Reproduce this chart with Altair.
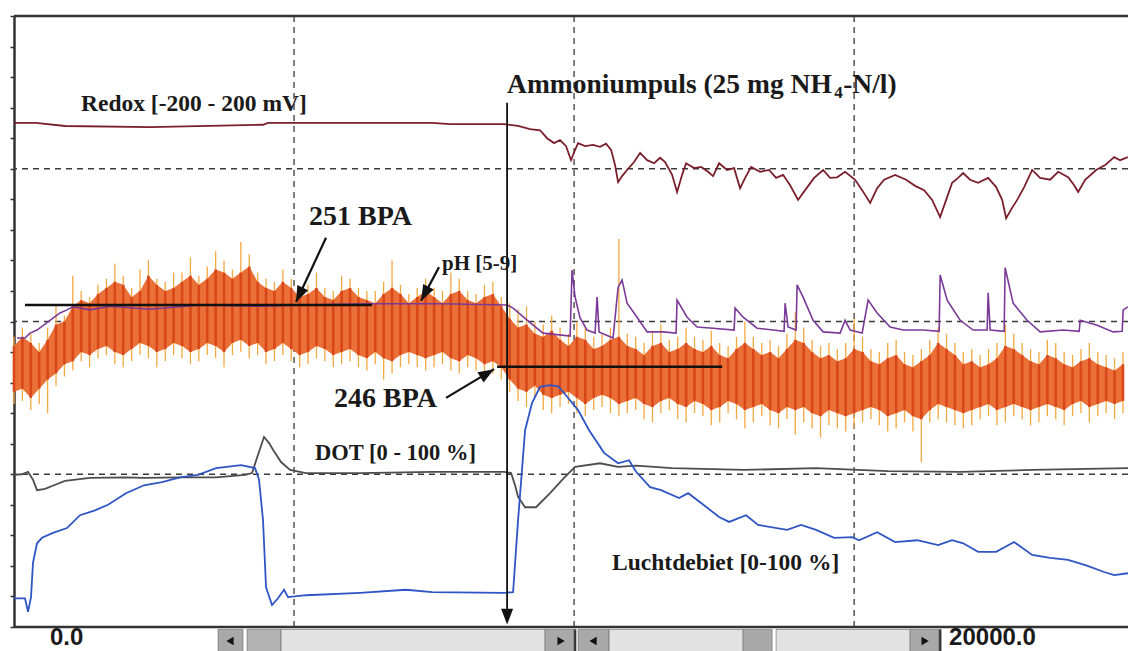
import altair as alt
import pandas as pd

T_END = 19890  # seconds visible in the window

# ---- series (time [s], value in % of the recorder's full scale) ----
REDOX = [(0, 82.5), (393, 82.5), (911, 82.0), (2429, 81.8), (4446, 82.2), (4536, 82.5), (7464, 82.5),
         (7786, 82.3), (8750, 82.3), (9000, 82.0), (9214, 81.5), (9393, 81.3), (9518, 80.0), (9643, 79.2),
         (9750, 79.7), (9857, 78.7), (9946, 76.4), (10000, 77.7), (10071, 79.2), (10196, 78.7), (10339, 78.9),
         (10464, 78.6), (10571, 79.1), (10661, 78.1), (10732, 75.6), (10786, 72.8), (10857, 73.8), (10946, 74.8),
         (11071, 76.1), (11179, 77.6), (11304, 76.4), (11429, 75.9), (11536, 76.8), (11625, 76.1), (11750, 74.0),
         (11839, 71.2), (11929, 74.0), (12000, 75.9), (12143, 75.1), (12268, 75.3), (12393, 74.5), (12482, 73.8),
         (12589, 75.9), (12732, 74.8), (12857, 75.1), (12964, 71.8), (13054, 73.5), (13161, 75.3), (13321, 74.5),
         (13482, 74.8), (13607, 73.5), (13732, 74.0), (13857, 72.3), (14000, 69.9), (14125, 71.5), (14286, 73.5),
         (14446, 74.8), (14571, 73.5), (14696, 73.6), (14839, 74.5), (15018, 73.2), (15143, 71.5), (15286, 69.4),
         (15411, 71.8), (15536, 73.2), (15732, 74.0), (15929, 73.2), (16089, 72.2), (16250, 71.5), (16393, 69.9),
         (16536, 67.1), (16643, 69.9), (16750, 72.7), (16857, 73.5), (16946, 74.3), (17071, 73.2), (17214, 72.7),
         (17393, 73.5), (17536, 72.0), (17643, 69.9), (17714, 66.9), (17821, 68.6), (17911, 69.9), (18036, 72.0),
         (18179, 74.8), (18321, 73.5), (18500, 73.2), (18643, 74.5), (18821, 73.6), (18929, 72.3), (19000, 71.2),
         (19125, 73.2), (19321, 74.8), (19482, 75.6), (19643, 76.9), (19750, 76.4), (19890, 76.9)]

PH = [(54, 47.3), (196, 47.3), (286, 48.1), (411, 48.6), (643, 50.2), (821, 51.4), (946, 51.9), (1054, 52.4),
      (1357, 51.9), (1714, 52.5), (2429, 52.0), (3321, 52.7), (4393, 52.5), (5107, 52.7), (6357, 52.9),
      (7607, 52.9), (8804, 52.7), (8911, 52.2), (9214, 49.8), (9446, 48.1), (9929, 47.6), (9964, 58.4),
      (10018, 54.0), (10107, 50.6), (10232, 48.6), (10375, 48.1), (10411, 54.0), (10446, 48.3), (10696, 47.3),
      (10786, 55.6), (10857, 56.8), (10946, 53.0), (11125, 50.7), (11304, 48.3), (11589, 48.3), (11821, 48.1),
      (11839, 53.5), (12018, 50.7), (12196, 49.1), (12482, 48.9), (12857, 48.6), (12875, 52.2), (13018, 50.7),
      (13268, 48.9), (13554, 48.6), (13750, 48.4), (13768, 53.0), (13821, 49.1), (13964, 48.6), (13982, 56.0),
      (14089, 54.0), (14268, 50.2), (14446, 48.3), (14750, 48.1), (14839, 50.2), (14929, 48.6), (15143, 48.1),
      (15250, 53.5), (15411, 51.4), (15643, 49.1), (15875, 48.6), (16232, 48.6), (16518, 48.4), (16536, 57.6),
      (16661, 53.5), (16893, 50.2), (17125, 48.6), (17375, 48.6), (17393, 54.7), (17429, 48.6), (17679, 48.4),
      (17696, 58.8), (17839, 53.0), (18089, 50.2), (18321, 48.3), (18732, 48.6), (19018, 48.4), (19036, 50.2),
      (19339, 49.4), (19625, 48.3), (19786, 48.4), (19804, 51.9), (19890, 52.4)]

DOT = [(0, 24.9), (143, 25.0), (250, 25.4), (339, 24.1), (411, 22.4), (554, 22.6), (714, 23.2), (911, 23.9),
       (1357, 24.4), (2000, 24.5), (2321, 24.4), (2964, 24.5), (3607, 24.5), (4125, 24.9), (4250, 25.2),
       (4357, 28.2), (4464, 31.1), (4554, 30.1), (4625, 29.0), (4768, 27.0), (4929, 25.7), (5214, 25.2),
       (6179, 25.2), (7464, 25.4), (8750, 25.4), (8875, 25.2), (8946, 23.2), (9000, 21.3), (9125, 19.6),
       (9321, 19.6), (9571, 21.9), (9821, 24.4), (10018, 26.2), (10464, 26.8), (10786, 26.2), (11107, 26.4),
       (11750, 26.0), (13036, 25.7), (14321, 26.0), (15607, 25.5), (16893, 25.4), (18179, 25.7), (19890, 26.0)]

LUCHT = [(0, 4.7), (196, 4.7), (250, 2.5), (304, 4.9), (339, 10.5), (411, 13.7), (500, 14.6), (696, 15.4),
         (946, 16.2), (1179, 18.3), (1446, 19.1), (1679, 20.0), (2000, 21.9), (2321, 23.2), (2643, 23.7),
         (2964, 24.5), (3286, 24.9), (3607, 26.0), (4054, 26.5), (4304, 26.0), (4375, 24.1), (4446, 17.5),
         (4500, 6.5), (4607, 3.6), (4714, 4.7), (4821, 6.1), (4893, 4.9), (5214, 5.2), (6179, 5.6), (7000, 6.1),
         (7464, 5.7), (8750, 5.6), (8911, 5.7), (9000, 17.5), (9125, 32.2), (9250, 36.7), (9393, 39.3),
         (9571, 39.6), (9714, 39.4), (9821, 38.3), (10071, 35.5), (10268, 32.2), (10536, 28.5), (10786, 26.8),
         (10982, 27.3), (11107, 25.4), (11357, 22.9), (11554, 22.4), (11875, 21.1), (12036, 21.9), (12268, 20.3),
         (12589, 18.0), (12768, 17.2), (13071, 18.3), (13286, 16.7), (13804, 15.9), (14054, 16.7), (14321, 15.9),
         (14643, 14.6), (14964, 14.7), (15089, 14.2), (15411, 15.5), (15732, 13.9), (16125, 14.2), (16500, 13.4),
         (16750, 14.2), (16946, 13.7), (17214, 12.3), (17536, 12.3), (17857, 13.9), (18179, 11.8), (18500, 11.3),
         (18821, 11.0), (19143, 10.1), (19464, 9.0), (19643, 8.5), (19890, 8.8)]

# noisy (orange) signal, logged every 150 s: core band top/bottom and extreme spikes
BAND_STEP = 150
BAND_CT = [46, 47.5, 46.5, 45, 47, 49.5, 50, 52.5, 53.5, 53,
           54.5, 55.5, 56.5, 56, 54, 55, 57.5, 56, 55, 55.5,
           56.5, 57.5, 56, 57, 58.5, 58, 57, 58, 59, 56.5,
           55.5, 55, 56.5, 55.5, 54, 54.5, 55.5, 54, 53.5, 55,
           55.5, 54, 53.5, 53, 54.5, 55.5, 54.5, 53, 54, 55,
           54, 53, 54.5, 55, 53.5, 53, 54, 54.5, 52.5, 50.5,
           49, 49.5, 48, 47.5, 48.5, 47, 46, 47.5, 47, 45.5,
           46, 47, 47.5, 46, 45.5, 44.5, 46, 46.5, 45, 45.5,
           46.5, 45.5, 45, 46, 44.5, 44, 45.5, 46.5, 45.5, 44.5,
           45, 44, 45.5, 47, 46.5, 45, 44, 44.5, 43.5, 44,
           45.5, 45, 43.5, 43, 44, 44.5, 43, 42.5, 43.5, 44.5,
           46.5, 45.5, 44.5, 43, 43.5, 42.5, 43, 44, 46, 45.5,
           44.5, 43.5, 43, 44.5, 44, 43, 42.5, 43.5, 44, 43, 42.5, 42, 43]
BAND_CB = [38.5, 39, 37.5, 39, 40.5, 41.5, 43, 43.5, 45, 44.5,
           45.5, 46, 45, 44.5, 45.5, 46.5, 46, 45, 45.5, 46.5,
           46, 45, 45.5, 46.5, 46, 45, 46.5, 47, 46, 46.5,
           45, 45.5, 46.5, 45.5, 44.5, 45, 46, 45.5, 44.5, 45,
           45.5, 44.5, 44, 45, 44, 43.5, 44.5, 45, 44.5, 44,
           44.5, 45, 44, 43.5, 44.5, 44, 43, 43.5, 42.5, 40.5,
           39, 38.5, 39.5, 38, 37.5, 38, 38.5, 37.5, 36.5, 37.5,
           38, 37.5, 36.5, 37, 37.5, 36.5, 36, 37, 37.5, 36.5,
           36, 37, 36.5, 35.5, 36, 37, 36.5, 35.5, 36, 36.5,
           35.5, 35, 36, 35.5, 36, 35, 34.5, 35.5, 35, 34.5,
           35, 35.5, 36, 35.5, 34.5, 35, 35.5, 34.5, 34, 35.5,
           36.5, 36, 35.5, 35, 35.5, 36, 36.5, 35.5, 36, 36.5,
           36, 35.5, 36, 36.5, 36, 35.5, 36.5, 37, 36, 36.5, 37, 36.5, 37]
BAND_ST = [47.5, 49, 48, 46.5, 49, 52.5, 51, 57.5, 55, 54,
           56, 57, 59.5, 57.5, 55.5, 58.5, 60, 57, 56.5, 58,
           58, 60.5, 57.5, 59, 61.5, 60, 58.5, 63, 61, 58,
           57, 56.5, 58.5, 57, 55.5, 56, 58, 55.5, 55, 57.5,
           57, 55.5, 55, 55, 56.5, 60, 56, 54.5, 55.5, 57,
           55.5, 55, 58, 57, 55, 54.5, 56, 56.5, 54, 53,
           52, 52.5, 50, 49.5, 51, 49, 48, 50, 49, 47.5,
           48, 49, 63.5, 48, 47.5, 46.5, 48.5, 49.5, 47, 47.5,
           49, 47.5, 47, 48.5, 46.5, 46, 47.5, 50, 47.5, 46.5,
           47, 46, 48, 51.5, 49, 47, 46, 46.5, 45.5, 46.5,
           50.5, 47.5, 45.5, 45, 46.5, 47, 45, 44.5, 45.5, 47,
           49, 48, 46.5, 45, 45.5, 44.5, 45.5, 46.5, 49.5, 48,
           46.5, 45.5, 45, 47, 46.5, 45, 44.5, 45.5, 46.5, 45, 44.5, 44, 45]
BAND_SB = [36.5, 37, 35.5, 36.5, 35, 39.5, 41, 42, 43.5, 42.5,
           44, 44.5, 43, 42.5, 43.5, 44.5, 44, 42.5, 43.5, 44.5,
           44, 43, 43.5, 44.5, 44, 42.5, 44.5, 45, 44, 44.5,
           43, 43.5, 44.5, 43.5, 42.5, 43, 44, 43.5, 42.5, 43,
           43.5, 42.5, 42, 43, 40.5, 41.5, 42.5, 43, 42.5, 42,
           42.5, 43, 42, 41.5, 42.5, 42, 41, 41.5, 40.5, 38.5,
           37, 36, 37.5, 35.5, 35, 36, 36.5, 35, 34.5, 35.5,
           36, 35, 34.5, 35, 35.5, 34, 33.5, 35, 35.5, 34,
           33.5, 35, 34.5, 33, 33.5, 35, 34, 32.5, 33.5, 34.5,
           33, 32.5, 34, 31.5, 33.5, 32.5, 31, 33, 32.5, 32,
           32.5, 33.5, 34, 33, 32, 32.5, 33.5, 32, 27, 33.5,
           34, 33.5, 33, 32.5, 33, 34, 34.5, 33, 33.5, 34.5,
           34, 33, 33.5, 34.5, 34, 33, 34.5, 35, 33.5, 34.5, 35, 34, 35]

# reference levels (t_start, t_end, value)
BPA_LINES = [(196, 6393, 52.7), (8625, 12643, 42.6)]
PULSE_T = 8804
PULSE_TOP, PULSE_BOTTOM = 85.8, 1.2

# annotation arrows (t_from, v_from, t_tip, v_tip, angle)
ARROWS = [(5571, 63.7, 5036, 53.2, 205), (7589, 58.9, 7268, 53.4, 208), (7714, 37.5, 8571, 42.2, 59)]

GRID_T = [5000, 10000, 15000]
GRID_V = [25, 50, 75]
TICK_V = list(range(0, 101, 5))

# labels (text, t, v, size)
SERIF_LABELS = [
    ("Redox  [-200 - 200 mV]", 1196, 84.5, 23.5),
    ("Ammoniumpuls (25 mg NH", 8804, 87.4, 27.5),
    ("4", 14643, 86.5, 17),
    ("-N/l)", 14804, 87.4, 27.5),
    ("251 BPA", 5268, 65.8, 28),
    ("pH [5-9]", 7643, 58.4, 21),
    ("246 BPA", 5714, 36.0, 28),
    ("DOT [0 - 100 %]", 5375, 27.3, 22.5),
    ("Luchtdebiet [0-100 %]", 10679, 9.3, 23.5),
]
SANS_LABELS = [("0.0", 643, -2.9, 24), ("20000.0", 16696, -2.9, 24)]

# scroll-bar strip below the plot (t1, t2, fill)
STRIP = [(3643, 4089, "#a9a9a9"), (4161, 4768, "#b3b3b3"), (4768, 9482, "#e2e2e2"), (9482, 10000, "#a9a9a9"),
         (10000, 10036, "#222222"), (10071, 10625, "#a9a9a9"), (10625, 13018, "#e2e2e2"),
         (13018, 13536, "#a9a9a9"), (13607, 16000, "#e2e2e2"), (16000, 16518, "#a9a9a9"),
         (16518, 16554, "#222222")]
STRIP_TOP, STRIP_BOTTOM = -0.4, -4.6
STRIP_BUTTONS = [(3857, "triangle-left"), (9768, "triangle-right"), (10339, "triangle-left"),
                 (16268, "triangle-right")]

# ---------------------------------------------------------------
XS = alt.Scale(domain=[0, T_END], nice=False, zero=False)
YS = alt.Scale(domain=[0, 100], nice=False, zero=False)
Y_AXIS = alt.Axis(values=TICK_V, labels=False, title=None, grid=False, ticks=True, tickSize=4,
                  tickWidth=1.5, tickColor="#333333", domain=True, domainColor="#333333", domainWidth=2.5)


def X(f="t"):
    return alt.X(f"{f}:Q", scale=XS, axis=None)


def Y(f="v"):
    return alt.Y(f"{f}:Q", scale=YS, axis=Y_AXIS)


def series(points):
    return pd.DataFrame(points, columns=["t", "v"])


band = pd.DataFrame({"t": [i * BAND_STEP for i in range(len(BAND_CT))],
                     "ct": BAND_CT, "cb": BAND_CB, "st": BAND_ST, "sb": BAND_SB})

layers = []
grid_style = dict(strokeDash=[6, 5], color="#3a3a3a", strokeWidth=1.3)
layers.append(alt.Chart(pd.DataFrame({"t": GRID_T})).mark_rule(**grid_style).encode(x=X()))
layers.append(alt.Chart(pd.DataFrame({"v": GRID_V})).mark_rule(**grid_style).encode(y=Y()))

layers.append(alt.Chart(band).mark_area(color="#ea7038").encode(x=X(), y=Y("ct"), y2="cb"))
layers.append(alt.Chart(band).mark_rule(color="#f4a840", strokeWidth=1.3).encode(x=X(), y=Y("st"), y2="sb"))
layers.append(alt.Chart(band).mark_rule(color="#d9461a", strokeWidth=2.6).encode(x=X(), y=Y("ct"), y2="cb"))

layers.append(alt.Chart(series(PH)).mark_line(color="#7b3a98", strokeWidth=1.6).encode(x=X(), y=Y()))
layers.append(alt.Chart(series(REDOX)).mark_line(color="#7a1f2b", strokeWidth=1.8).encode(x=X(), y=Y()))
layers.append(alt.Chart(series(DOT)).mark_line(color="#4d4d4d", strokeWidth=1.8).encode(x=X(), y=Y()))
layers.append(alt.Chart(series(LUCHT)).mark_line(color="#2f55c4", strokeWidth=1.8).encode(x=X(), y=Y()))

bpa = pd.DataFrame(BPA_LINES, columns=["t1", "t2", "v"])
layers.append(alt.Chart(bpa).mark_rule(color="#111111", strokeWidth=2.5).encode(x=X("t1"), x2="t2", y=Y()))

pulse = pd.DataFrame({"t": [PULSE_T], "v1": [PULSE_TOP], "v2": [PULSE_BOTTOM]})
layers.append(alt.Chart(pulse).mark_rule(color="#111111", strokeWidth=1.8).encode(x=X(), y=Y("v1"), y2="v2"))

arr = pd.DataFrame(ARROWS, columns=["t1", "v1", "t2", "v2", "ang"])
layers.append(alt.Chart(arr).mark_rule(color="#111111", strokeWidth=2.2).encode(
    x=X("t1"), x2="t2", y=Y("v1"), y2="v2"))
heads = pd.DataFrame({"t": list(arr["t2"]) + [PULSE_T], "v": list(arr["v2"]) + [0.4],
                      "ang": list(arr["ang"]) + [180]})
ARROW_PATH = "M0,0L-0.38,1L0.38,1Z"
layers.append(alt.Chart(heads).mark_point(shape=ARROW_PATH, filled=True, color="#111111", opacity=1,
                                          size=1000, strokeWidth=0).encode(
    x=X(), y=Y(), angle=alt.Angle("ang:Q", scale=None)))

# frame top & bottom
layers.append(alt.Chart(pd.DataFrame({"v": [100, 0]})).mark_rule(color="#333333", strokeWidth=2.5).encode(y=Y()))

# scroll strip
strip = pd.DataFrame(STRIP, columns=["t1", "t2", "fill"])
strip["v1"] = STRIP_TOP
strip["v2"] = STRIP_BOTTOM
layers.append(alt.Chart(strip).mark_rect(stroke="#666666", strokeWidth=0.6).encode(
    x=X("t1"), x2="t2", y=Y("v1"), y2="v2", color=alt.Color("fill:N", scale=None)))
btn = pd.DataFrame(STRIP_BUTTONS, columns=["t", "shape"])
btn["v"] = -2.3
layers.append(alt.Chart(btn).mark_point(filled=True, color="#111111", size=70, opacity=1).encode(
    x=X(), y=Y(), shape=alt.Shape("shape:N", scale=None)))

serif = pd.DataFrame(SERIF_LABELS, columns=["label", "t", "v", "size"])
layers.append(alt.Chart(serif).mark_text(font="Liberation Serif", fontWeight="bold", align="left",
                                         baseline="alphabetic", color="#1a1a1a").encode(
    x=X(), y=Y(), text="label:N", size=alt.Size("size:Q", scale=None)))
sans = pd.DataFrame(SANS_LABELS, columns=["label", "t", "v", "size"])
layers.append(alt.Chart(sans).mark_text(font="Liberation Sans", fontWeight="bold", align="left",
                                        baseline="alphabetic", color="#1a1a1a").encode(
    x=X(), y=Y(), text="label:N", size=alt.Size("size:Q", scale=None)))

chart = alt.layer(*layers).properties(
    width=1114, height=611,
    padding={"left": 14, "top": 16, "right": 0, "bottom": 24},
    autosize=alt.AutoSizeParams(type="none"),
    background="white",
).configure_view(stroke=None)

chart.save("out.html", embed_options={"renderer": "svg", "actions": False})
